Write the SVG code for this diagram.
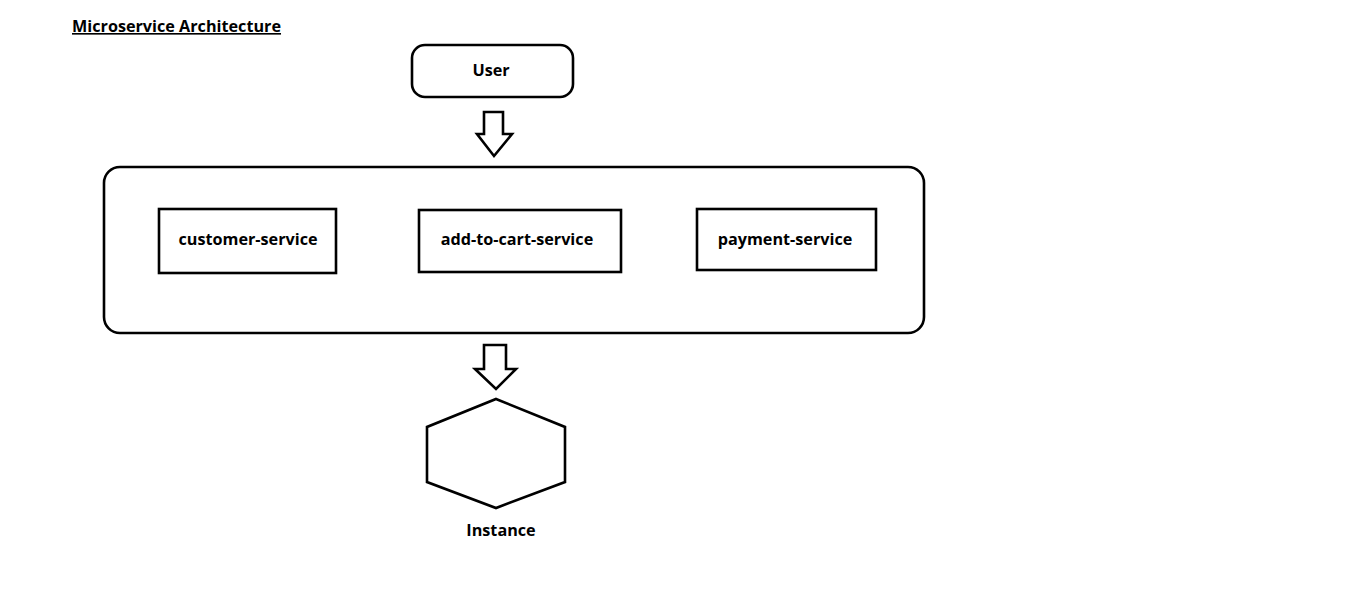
<svg xmlns="http://www.w3.org/2000/svg" width="1360" height="615" viewBox="0 0 1360 615">
<style>
.s{fill:#fff;stroke:#000;stroke-width:2.6}
.t{font-family:"Open Sans","Liberation Sans",sans-serif;font-weight:bold;font-size:16.2px;fill:#000;text-anchor:middle}
</style>
<rect width="1360" height="615" fill="#fff"/>
<text x="72" y="32" class="t" style="text-anchor:start;text-decoration:underline">Microservice Architecture</text>
<g id="user">
<rect class="s" x="412" y="45" width="161" height="52" rx="13"/>
<text class="t" x="491" y="76">User</text>
</g>
<g id="container">
<rect class="s" x="104" y="167" width="820" height="166" rx="16"/>
</g>
<g id="customer-service">
<rect class="s" x="159" y="209" width="177" height="64"/>
<text class="t" x="248" y="245">customer-service</text>
</g>
<g id="add-to-cart-service">
<rect class="s" x="419" y="210" width="202" height="62"/>
<text class="t" x="517" y="245">add-to-cart-service</text>
</g>
<g id="payment-service">
<rect class="s" x="697" y="209" width="179" height="61"/>
<text class="t" x="785" y="245">payment-service</text>
</g>
<g id="instance">
<polygon class="s" points="496,399 565,427 565,482 496,508 427,482 427,427"/>
<text class="t" x="501" y="536">Instance</text>
</g>
<g id="connectors">
<polygon class="s" points="484,112 503,112 503,134 512,134 494,156 477,134 484,134"/>
<polygon class="s" points="484,345 506,345 506,369 516,369 496,389 475,369 484,369"/>
</g>
</svg>
